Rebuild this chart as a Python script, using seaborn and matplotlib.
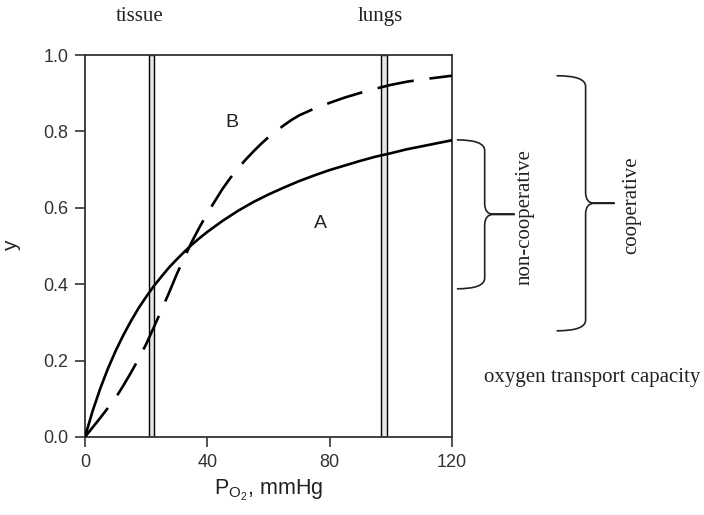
import pandas as pd
import matplotlib.pyplot as plt
from matplotlib.path import Path
from matplotlib.patches import PathPatch
import seaborn as sns

# curve A: non-cooperative (solid)
po2_a = [0, 2.5, 5, 7.5, 10, 12.5, 15, 17.5, 20, 22.5, 25, 27.5, 30, 32.5, 35, 37.5,
         40, 45, 50, 55, 60, 65, 70, 75, 80, 85, 90, 95, 100, 105, 110, 115, 120]
y_a = [0, 0.068, 0.127, 0.179, 0.225, 0.266, 0.303, 0.337, 0.367, 0.395, 0.420,
       0.444, 0.465, 0.485, 0.504, 0.521, 0.537, 0.566, 0.592, 0.615, 0.635,
       0.653, 0.670, 0.685, 0.699, 0.711, 0.723, 0.734, 0.743, 0.753, 0.761,
       0.769, 0.777]

# curve B: cooperative (dashed)
po2_b = [0, 2.5, 5, 7.5, 10, 12.5, 15, 17.5, 20, 22.5, 25, 27.5, 30, 32.5, 35,
         37.5, 40, 42.5, 45, 47.5, 50, 52.5, 55, 57.5, 60, 62.5, 65, 67.5, 70,
         75, 80, 85, 90, 95, 100, 105, 110, 115, 120]
y_b = [0, 0.025, 0.05, 0.076, 0.102, 0.134, 0.168, 0.204, 0.243, 0.287, 0.332,
       0.378, 0.426, 0.47, 0.512, 0.55, 0.585, 0.618, 0.65, 0.678, 0.703,
       0.726, 0.747, 0.767, 0.785, 0.801, 0.816, 0.83, 0.842, 0.86, 0.875,
       0.889, 0.901, 0.912, 0.922, 0.93, 0.936, 0.941, 0.946]

tissue_band = [20.8, 22.6]
lungs_band = [96.8, 98.6]

df = pd.concat([
    pd.DataFrame({"po2": po2_a, "y": y_a, "curve": "A"}),
    pd.DataFrame({"po2": po2_b, "y": y_b, "curve": "B"}),
])

sns.set_theme(style="ticks")
plt.rcParams["font.family"] = ["Liberation Sans", "DejaVu Sans"]
plt.rcParams["mathtext.fontset"] = "custom"
plt.rcParams["mathtext.rm"] = "Liberation Sans"

fig = plt.figure(figsize=(7.04, 5.15), dpi=100)
ax = fig.add_axes([0.1207, 0.1515, 0.5213, 0.7415])

for band in (tissue_band, lungs_band):
    ax.axvspan(band[0], band[1], facecolor="#e6e6e6", edgecolor="black", lw=1.0, zorder=1)

sns.lineplot(data=df, x="po2", y="y", style="curve", dashes={"A": "", "B": (14, 6)},
             color="black", lw=1.9, legend=False, estimator=None, sort=False, ax=ax, zorder=3)

ax.set_xlim(0, 120)
ax.set_ylim(0, 1.0)
ax.set_xticks([0, 40, 80, 120])
ax.set_yticks([0, 0.2, 0.4, 0.6, 0.8, 1.0])
ax.set_yticklabels(["0.0", "0.2", "0.4", "0.6", "0.8", "1.0"])
ax.tick_params(direction="out", length=7, width=1.2, colors="#333333", labelsize=13, pad=5)
for sp in ax.spines.values():
    sp.set_color("#333333")
    sp.set_linewidth(1.3)

ax.set_xlabel(r"P$_{\mathregular{O_2}}$, mmHg", fontsize=15.5, color="#222222", labelpad=5)
ax.set_ylabel("y", fontsize=15, color="#222222", labelpad=16)

ax.text(48, 0.823, "B", fontsize=14, ha="center", va="center", color="#222222")
ax.text(77.1, 0.558, "A", fontsize=14, ha="center", va="center", color="#222222")

serif = dict(family=["Liberation Serif", "DejaVu Serif"], fontsize=15, color="#222222")
ax.text(18, 1.10, "tissue", ha="center", va="center", clip_on=False, **serif)
ax.text(96.4, 1.10, "lungs", ha="center", va="center", clip_on=False, **serif)
ax.text(143.8, 0.577, "non-cooperative", rotation=90, ha="center", va="center", **serif)
ax.text(178.8, 0.608, "cooperative", rotation=90, ha="center", va="center", **serif)
ax.text(165.7, 0.157, "oxygen transport capacity", ha="center", va="center", **serif)


def brace(ax, x0, x1, x2, ytop, ybot, r=0.028):
    ymid = (ytop + ybot) / 2
    d = (x2 - x1) * 0.3
    verts = [(x0, ytop), (x1, ytop), (x1, ytop - r),
             (x1, ymid + r), (x1, ymid), (x1 + d, ymid), (x2, ymid),
             (x1 + d, ymid), (x1, ymid), (x1, ymid - r),
             (x1, ybot + r), (x1, ybot), (x0, ybot)]
    codes = [Path.MOVETO, Path.CURVE3, Path.CURVE3,
             Path.LINETO, Path.CURVE3, Path.CURVE3, Path.LINETO,
             Path.LINETO, Path.CURVE3, Path.CURVE3,
             Path.LINETO, Path.CURVE3, Path.CURVE3]
    ax.add_patch(PathPatch(Path(verts, codes), fill=False, lw=1.2, edgecolor="#222222",
                           clip_on=False, transform=ax.transData))


brace(ax, 121.6, 130.7, 140.5, 0.778, 0.388)
brace(ax, 154.2, 163.7, 173.2, 0.946, 0.278)

fig.savefig("out.png", dpi=100)
